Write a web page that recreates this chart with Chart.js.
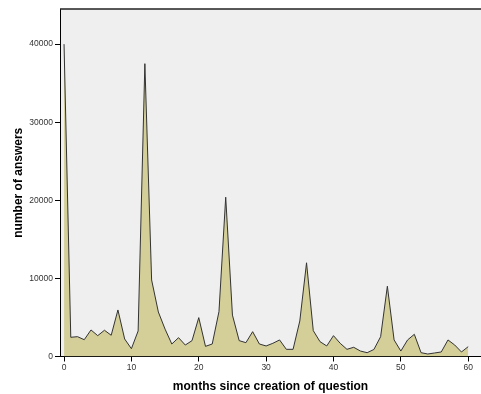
<!DOCTYPE html>
<html>
<head>
<meta charset="utf-8">
<script src="https://cdn.jsdelivr.net/npm/chart.js@4"></script>
<style>
  html, body { margin: 0; padding: 0; background: #fff; }
  #wrap { width: 481px; height: 394px; }
</style>
</head>
<body>
<div id="wrap"><canvas id="chart" width="481" height="394"></canvas></div>
<script>
// months since creation of question (0..60)
const months = [];
for (let m = 0; m <= 60; m++) months.push(m);

// number of answers per month
const answers = [
  40000, 2460, 2540, 2150, 3400, 2670, 3360, 2720, 5960, 2240,
  1000, 3270, 37500, 9800, 5700, 3500, 1600, 2410, 1470, 2030,
  4980, 1300, 1600, 5750, 20400, 5300, 2030, 1770, 3180, 1600,
  1350, 1690, 2120, 920, 920, 4550, 12000, 3310, 1900, 1350,
  2670, 1690, 920, 1180, 700, 490, 900, 2540, 9000, 2120,
  700, 2120, 2840, 490, 320, 450, 580, 2120, 1470, 580,
  1260
];

const xTicks = [0, 10, 20, 30, 40, 50, 60];
const yTicks = [0, 10000, 20000, 30000, 40000];

const frame = {
  id: "frame",
  beforeDraw(chart) {
    const { ctx, chartArea: a } = chart;
    ctx.save();
    ctx.fillStyle = "#efefef";
    ctx.fillRect(a.left, a.top, a.right - a.left, a.bottom - a.top);
    ctx.restore();
  },
  afterDraw(chart) {
    const { ctx, chartArea: a } = chart;
    ctx.save();
    ctx.strokeStyle = "#222";
    ctx.lineWidth = 1.5;
    ctx.beginPath();
    ctx.moveTo(a.left, a.top);
    ctx.lineTo(a.right, a.top);
    ctx.stroke();
    ctx.restore();
  }
};

const tickFont = { family: "'Liberation Sans', Arial, sans-serif", size: 8.5 };
const titleFont = { family: "'Liberation Sans', Arial, sans-serif", size: 12, weight: "bold" };

new Chart(document.getElementById("chart").getContext("2d"), {
  type: "line",
  data: {
    datasets: [{
      data: months.map((m, i) => ({ x: m, y: answers[i] })),
      borderColor: "#333",
      borderWidth: 1,
      backgroundColor: "#d4cf99",
      fill: "origin",
      tension: 0,
      pointRadius: 0
    }]
  },
  options: {
    responsive: false,
    animation: false,
    layout: { padding: { top: 9, right: 0, left: 0, bottom: 0 } },
    plugins: {
      legend: { display: false },
      tooltip: { enabled: false }
    },
    scales: {
      x: {
        type: "linear",
        min: -0.6,
        max: 61.9,
        afterBuildTicks: s => { s.ticks = xTicks.map(v => ({ value: v })); },
        afterFit: s => { s.height = 37.5; },
        grid: { drawOnChartArea: false, drawTicks: true, tickLength: 5, color: "#000" },
        border: { display: true, color: "#000", width: 1 },
        ticks: { font: tickFont, color: "#333", padding: 1, maxRotation: 0, callback: v => String(v) },
        title: { display: true, text: "months since creation of question", font: titleFont, color: "#000", padding: { top: 2, bottom: 0 } }
      },
      y: {
        min: 0,
        max: 44500,
        afterBuildTicks: s => { s.ticks = yTicks.map(v => ({ value: v })); },
        afterFit: s => { s.width = 60; },
        grid: { drawOnChartArea: false, drawTicks: true, tickLength: 5, color: "#000" },
        border: { display: true, color: "#000", width: 1 },
        ticks: { font: tickFont, color: "#333", padding: 2, callback: v => String(v) },
        title: { display: true, text: "number of answers", font: titleFont, color: "#000", padding: { top: 11, bottom: 0 } }
      }
    }
  },
  plugins: [frame]
});
</script>
</body>
</html>
